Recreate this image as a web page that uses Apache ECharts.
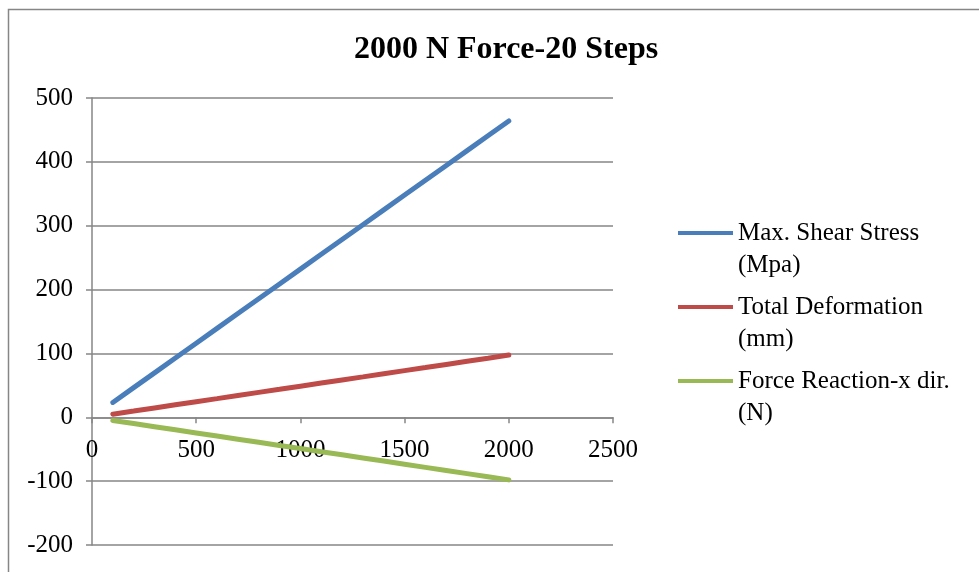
<!DOCTYPE html>
<html>
<head>
<meta charset="utf-8">
<script src="https://cdn.jsdelivr.net/npm/echarts@6/dist/echarts.min.js"></script>
<style>
  html, body { margin: 0; padding: 0; background: #ffffff; }
  #chart { width: 979px; height: 572px; }
</style>
</head>
<body>
<div id="chart"></div>
<script>
// Load steps (N) for the 20-step 2000 N run
const steps = [100, 200, 300, 400, 500, 600, 700, 800, 900, 1000,
               1100, 1200, 1300, 1400, 1500, 1600, 1700, 1800, 1900, 2000];

// Result quantities at each step
const maxShearStress = [23.2, 46.4, 69.6, 92.8, 116.0, 139.2, 162.4, 185.6, 208.8, 232.0,
                        255.2, 278.4, 301.6, 324.8, 348.0, 371.2, 394.4, 417.6, 440.8, 464.0];
const totalDeformation = [4.9, 9.7, 14.6, 19.5, 24.4, 29.2, 34.1, 39.0, 43.8, 48.7,
                          53.6, 58.5, 63.3, 68.2, 73.1, 77.9, 82.8, 87.7, 92.5, 97.4];
const forceReactionX = [-4.9, -9.8, -14.7, -19.6, -24.5, -29.4, -34.3, -39.2, -44.1, -49.0,
                        -53.9, -58.8, -63.7, -68.6, -73.5, -78.4, -83.3, -88.2, -93.1, -98.0];

const seriesNames = ['Max. Shear Stress (Mpa)', 'Total Deformation (mm)', 'Force Reaction-x dir. (N)'];
const seriesColors = ['#4A7EBB', '#BE4B48', '#98B954'];

const FONT = '"Times New Roman", "Liberation Serif", serif';
const GRID_GRAY = '#868686';

function pairs(xs, ys) {
  return xs.map((x, i) => [x, ys[i]]);
}

// Legend swatch: a short bar level with the first text line
const legendIcon = 'path://M0,0L55,0M0,14L55,14L55,18L0,18ZM0,64L55,64';

const chart = echarts.init(document.getElementById('chart'), null, { renderer: 'canvas' });

chart.setOption({
  animation: false,
  backgroundColor: '#ffffff',
  color: seriesColors,
  title: {
    text: '2000 N Force-20 Steps',
    left: 501,
    textAlign: 'center',
    top: 29,
    textStyle: { fontFamily: FONT, fontSize: 32, fontWeight: 'bold', color: '#000000' }
  },
  graphic: [{
    type: 'rect',
    left: 6, top: 7,
    shape: { width: 990, height: 600 },
    style: { fill: 'none', stroke: GRID_GRAY, lineWidth: 1.5 },
    silent: true
  }],
  grid: { left: 92, right: 366, top: 98, bottom: 27, outerBoundsMode: 'none', containLabel: false },
  legend: {
    orient: 'vertical',
    left: 678,
    top: 217,
    padding: 0,
    itemWidth: 55,
    itemHeight: 64,
    itemGap: 10,
    icon: legendIcon,
    formatter: name => name.replace(' (', '\n('),
    textStyle: { fontFamily: FONT, fontSize: 25, lineHeight: 32, color: '#000000' },
    data: seriesNames
  },
  xAxis: {
    type: 'value',
    min: 0, max: 2500, interval: 500,
    axisLine: { onZero: true, lineStyle: { color: GRID_GRAY, width: 1.5 } },
    axisTick: { show: true, length: 6, lineStyle: { color: GRID_GRAY, width: 1.5 } },
    // tick labels sit just under the zero line rather than at the grid's bottom edge
    axisLabel: { fontFamily: FONT, fontSize: 25, color: '#000000', margin: -107, formatter: v => String(v) },
    splitLine: { show: false }
  },
  yAxis: {
    type: 'value',
    min: -200, max: 500, interval: 100,
    axisLine: { show: true, lineStyle: { color: GRID_GRAY, width: 1.5 } },
    axisTick: { show: true, length: 6, lineStyle: { color: GRID_GRAY, width: 1.5 } },
    axisLabel: { fontFamily: FONT, fontSize: 25, color: '#000000', margin: 19, formatter: v => String(v) },
    splitLine: { show: true, lineStyle: { color: GRID_GRAY, width: 1.5 } }
  },
  series: [
    { name: seriesNames[0], type: 'line', data: pairs(steps, maxShearStress) },
    { name: seriesNames[1], type: 'line', data: pairs(steps, totalDeformation) },
    { name: seriesNames[2], type: 'line', data: pairs(steps, forceReactionX) }
  ].map(s => Object.assign(s, {
    showSymbol: false,
    symbol: 'none',
    z: 5,
    lineStyle: { width: 5, cap: 'round' }
  }))
});
</script>
</body>
</html>
